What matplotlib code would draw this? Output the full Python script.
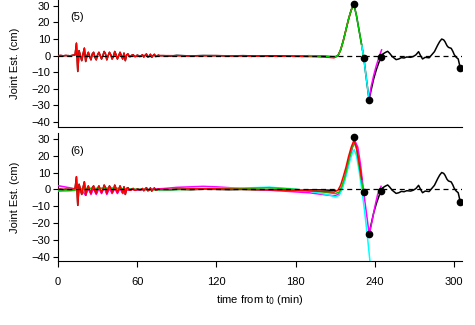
import numpy as np
import matplotlib
matplotlib.use("Agg")
import matplotlib.pyplot as plt

plt.rcParams['font.family'] = ['Liberation Sans', 'DejaVu Sans']

# observed record, first 80 min at 1-min steps
obs_early_t = np.arange(0, 81)
obs_early_v = [0, 0, 0.1, 0, -0.1, 0, 0.1, 0, 0, -0.1,
               0, 0.2, 0.3, 0.5, 7.5, -9.5, 3, 0, -3, 1,
               4.5, -3.5, 0, 2, -0.5, -2.5, 1, 2, -1, -2.5,
               0.5, 2, 0, -2, 0, 2.5, 1, -2.5, 0, 2,
               0.5, -2, -0.5, 2.5, 0.5, -2, 0, 2, 0, -2,
               1.5, -3, 0.5, 1, -0.5, -0.5, 0.3, 0.5, -0.5, -0.5,
               0.3, 0, -0.5, 0, 0.5, -0.8, 0.2, 1, -0.8, -0.5,
               0.8, -1, 0, 0.8, -0.5, -0.3, 0.3, 0, 0, 0,
               0]

obs_late_t = [85, 90, 100, 110, 120, 130, 140, 150, 160, 170, 180, 190,
              200, 205, 208, 210, 212, 214, 216, 218, 220, 222, 224, 226,
              228, 230, 231.6, 233, 234.5, 235.5, 237, 239, 241, 243, 244.6,
              246, 248, 249.6, 251, 253, 256, 258, 260, 262, 264, 267, 269,
              271, 273, 274.5, 276, 278, 281, 283, 285, 287.5, 289, 290.5,
              292, 293, 294.5, 295.6, 297.7, 299, 300, 301.5, 303, 304.6]
obs_late_v = [-0.3, 0.2, -0.2, 0.1, 0, -0.2, 0, -0.2, -0.1, -0.2, -0.3, -0.3,
              -0.3, -0.5, -0.6, -0.6, 0, 3.5, 9, 15.5, 22, 27.5, 31, 24,
              15, 6, -1.6, -11, -20, -26.5, -21, -14, -8.5, -4, -1,
              1, 2, 2.6, 1.5, -0.5, -2.4, -2, -1.2, -1.4, -0.8, -1, -0.5,
              0.5, 2.4, 0, -2, -1, -1.3, 0.5, 2.4, 6.4, 8.5, 10,
              9.5, 8.4, 6, 5, 4.4, 2.5, 0.6, -1, -2, -7.6]

dot_t = [224, 231.6, 235.5, 244.6, 304.6]
dot_v = [31, -1.6, -26.5, -1, -7.6]

# panel (5) estimates
red5_t = [85, 100, 120, 140, 160, 180, 195, 205, 209, 212, 214, 216, 218,
          220, 222, 224]
red5_v = [0, -0.2, 0, -0.2, -0.3, -0.4, -0.6, -1, -1.3, 0, 3.5, 9, 15.5,
          22, 27.5, 31]
green5_t = [190, 200, 208, 211, 213, 215, 217, 219, 221, 223, 224, 226, 228,
            230, 231.6]
green5_v = [0, -0.3, -0.8, -0.5, 1.5, 6, 12, 19, 25, 29.5, 31, 24, 15,
            6, -1.6]
cyan5_t = [230, 231.6, 233, 234.5, 235.5]
cyan5_v = [6, -1.6, -11, -20, -26.5]
mag5_t = [235.5, 237, 239, 241, 243, 245]
mag5_v = [-26.5, -19, -12, -6, -1, 3.5]

# panel (6) estimates
red6_t = [85, 100, 120, 140, 160, 180, 195, 205, 209, 212, 214, 216, 218,
          220, 222, 224, 226, 228, 230]
red6_v = [0, 0.3, 0.3, 0, -0.3, -0.6, -1, -1.4, -1.6, -0.5, 2.5, 7.5, 13,
          19.5, 25, 29, 25, 16, 6]
green6_t = [0, 10, 20, 30, 40, 50, 60, 80, 100, 120, 140, 160, 180, 195, 205,
            210, 213, 215, 217, 219, 221, 223, 224.5, 226, 228, 230, 231.5]
green6_v = [-1, -0.8, 0.5, 0.5, 0.8, 0.3, 0, -0.3, 0, 0.3, 0.5, 1, 0, -1, -2,
            -2.5, -1.5, 2, 7, 13.5, 20, 25.5, 27.5, 24, 14, 4, -2]
cyan6_t = [0, 20, 40, 60, 80, 100, 120, 140, 160, 175, 190, 200, 206, 210,
           213, 215, 217, 219, 221, 223, 224.3, 226, 228, 230, 232, 234, 236.5]
cyan6_v = [-0.8, 0.6, 0.8, 0, -0.3, 0.2, 0.6, 0.8, 1.3, 0.5, -1, -2.5, -3.5,
           -4.5, -3.5, 0, 5, 11, 17, 22, 23.5, 20, 11, 0, -12, -26, -45]
mag6_t = [0, 5, 10, 14, 16, 18, 21, 23, 25, 27, 29, 31, 33, 35, 37, 39, 41,
          43, 45, 47, 49, 52, 56, 60, 70, 80, 90, 100, 110, 120, 130, 140,
          150, 160, 170, 180, 190, 200, 205, 210, 213, 215, 217, 219, 221,
          223, 225, 227, 229, 231.5, 233.5, 235.7, 238, 240, 242, 244.6]
mag6_v = [2.2, 1.5, 0.8, 0, -1.5, -0.5, -3.5, 0.5, -3, 0.5, -3, 0.5, -2.5, 1,
          -3, 0.5, -2.5, 0.5, -2.5, 0.5, -2.5, -0.5, 0, -0.5, 0, 0.5, 1.2,
          1.5, 1.8, 1.5, 1, 0.4, 0, -0.5, -1, -1.5, -2, -3, -3.5, -3.8, -2.5,
          0.5, 5.5, 12, 19, 25, 28.5, 25, 15, -2, -14, -26.9, -18, -10, -3,
          1.8]

obs_t = np.concatenate([obs_early_t, obs_late_t])
obs_v = np.concatenate([obs_early_v, obs_late_v])

fig = plt.figure(figsize=(4.75, 3.25), dpi=100)
ax1 = fig.add_axes([0.122, 0.609, 0.851, 0.391])
ax2 = fig.add_axes([0.122, 0.197, 0.851, 0.394])

GREEN = '#00CD00'
lw = 1.1


def setup(ax, label, ylo):
    ax.set_xlim(0, 306)
    ax.set_ylim(ylo, 33.5)
    ax.spines['top'].set_visible(False)
    ax.spines['right'].set_visible(False)
    ax.spines['left'].set_linewidth(0.8)
    ax.spines['bottom'].set_linewidth(0.8)
    ax.set_yticks([30, 20, 10, 0, -10, -20, -30, -40])
    ax.set_yticklabels(['30', '20', '10', '0', '\u221210', '\u221220',
                        '\u221230', '\u221240'])
    ax.tick_params(axis='y', direction='out', length=3.5, width=0.8,
                   labelsize=8, pad=2)
    ax.set_ylabel('Joint Est. (cm)', fontsize=8, labelpad=8)
    ax.axhline(0, color='black', ls=(0, (4, 3)), lw=0.9, zorder=5)
    ax.text(9, 23, label, fontsize=8, va='center', ha='left')


setup(ax1, '(5)', -43)
setup(ax2, '(6)', -42.5)
ax1.set_xticks([])

ax1.plot(obs_t, obs_v, color='black', lw=lw, zorder=2)
ax1.plot(np.concatenate([obs_early_t, red5_t]),
         np.concatenate([obs_early_v, red5_v]), color='red', lw=lw, zorder=3)
ax1.plot(green5_t, green5_v, color=GREEN, lw=lw, zorder=4)
ax1.plot(cyan5_t, cyan5_v, color='cyan', lw=lw, zorder=4)
ax1.plot(mag5_t, mag5_v, color='magenta', lw=lw, zorder=4)
ax1.plot(dot_t, dot_v, 'o', color='black', ms=4.5, zorder=6)

# in panel (6) the observed line is hidden beneath the forecasts around the peak
obs_v6 = np.where((obs_t > 211) & (obs_t < 235.5), np.nan, obs_v)
ax2.plot(obs_t, obs_v6, color='black', lw=lw, zorder=2)
ax2.plot(mag6_t, mag6_v, color='magenta', lw=lw, zorder=3)
ax2.plot(cyan6_t, cyan6_v, color='cyan', lw=lw, zorder=3)
ax2.plot(green6_t, green6_v, color=GREEN, lw=lw, zorder=3)
ax2.plot(np.concatenate([obs_early_t, red6_t]),
         np.concatenate([obs_early_v, red6_v]), color='red', lw=lw, zorder=4)
ax2.plot(dot_t, dot_v, 'o', color='black', ms=4.5, zorder=6)

ax2.set_xticks([0, 60, 120, 180, 240, 300])
ax2.tick_params(axis='x', direction='out', length=4.5, width=0.8,
                labelsize=8, pad=7)
ax2.set_xlabel('time from t$_0$ (min)', fontsize=8, labelpad=4)

fig.savefig('out.png', dpi=100)
